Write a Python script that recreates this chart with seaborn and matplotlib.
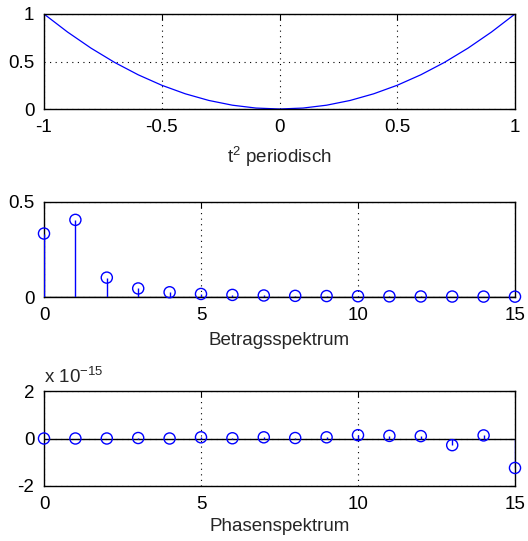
import numpy as np
import pandas as pd
import matplotlib
matplotlib.use("Agg")
import matplotlib.pyplot as plt
import seaborn as sns

# ---- data ----
t_vals = [-1.0, -0.9, -0.8, -0.7, -0.6, -0.5, -0.4, -0.3, -0.2, -0.1, 0.0,
          0.1, 0.2, 0.3, 0.4, 0.5, 0.6, 0.7, 0.8, 0.9, 1.0]
y_vals = [1.0, 0.81, 0.64, 0.49, 0.36, 0.25, 0.16, 0.09, 0.04, 0.01, 0.0,
          0.01, 0.04, 0.09, 0.16, 0.25, 0.36, 0.49, 0.64, 0.81, 1.0]

k_vals = list(range(16))
betrag = [0.334, 0.406, 0.102, 0.045, 0.025, 0.016, 0.011, 0.008, 0.006,
          0.005, 0.004, 0.0034, 0.0028, 0.0024, 0.0021, 0.0018]
phase_e15 = [0.0, 0.0, 0.0, 0.02, 0.0, 0.05, 0.01, 0.05, 0.02, 0.05, 0.14,
             0.11, 0.1, -0.28, 0.13, -1.24]

top_xticks = [-1, -0.5, 0, 0.5, 1]
top_xticklabels = ["-1", "-0.5", "0", "0.5", "1"]
top_yticks = [0, 0.5, 1]
top_yticklabels = ["0", "0.5", "1"]
k_ticks = [0, 5, 10, 15]
mid_yticks = [0, 0.5]
bot_yticks = [-2, 0, 2]

FS = 13.5

sns.set_style("white")
plt.rcParams['font.family'] = ['Liberation Sans', 'DejaVu Sans']
plt.rcParams['font.size'] = FS
plt.rcParams['mathtext.fontset'] = 'custom'
plt.rcParams['mathtext.rm'] = 'Liberation Sans'

fig = plt.figure(figsize=(5.28, 5.41), dpi=100)
L, W = 44 / 528, 471 / 528
H = 95 / 541
ax1 = fig.add_axes([L, 1 - 109 / 541, W, H])
ax2 = fig.add_axes([L, 1 - 297 / 541, W, H])
ax3 = fig.add_axes([L, 1 - 486 / 541, W, H])

blue = "#0000FF"

def style(ax):
    for s in ax.spines.values():
        s.set_color("black")
        s.set_linewidth(1.0)
    ax.tick_params(direction="in", length=4, width=0.8, top=True, right=True,
                   labelsize=FS, colors="black", pad=7)
    ax.grid(True, color="black", linestyle=(0, (1, 4)), linewidth=0.8)
    ax.set_axisbelow(True)

# top plot
df1 = pd.DataFrame({"t": t_vals, "y": y_vals})
sns.lineplot(data=df1, x="t", y="y", ax=ax1, color=blue, linewidth=0.9)
ax1.set_xlim(-1, 1)
ax1.set_ylim(0, 1)
ax1.set_xticks(top_xticks)
ax1.set_xticklabels(top_xticklabels)
ax1.set_yticks(top_yticks)
ax1.set_yticklabels(top_yticklabels)
ax1.set_xlabel(r"t$^\mathregular{2}$ periodisch", fontsize=FS, labelpad=6)
ax1.set_ylabel("")
style(ax1)

# middle plot
df2 = pd.DataFrame({"k": k_vals, "v": betrag})
ax2.vlines(df2["k"], 0, df2["v"], color=blue, linewidth=1.0, zorder=3)
ax2.axhline(0, color="black", linewidth=1.0, zorder=2)
sns.scatterplot(data=df2, x="k", y="v", ax=ax2, marker="o", s=64,
                facecolor="none", edgecolor=blue, linewidth=1.0, zorder=4,
                clip_on=False)
ax2.set_xlim(0, 15)
ax2.set_ylim(0, 0.5)
ax2.set_xticks(k_ticks)
ax2.set_yticks(mid_yticks)
ax2.set_yticklabels(["0", "0.5"])
ax2.set_xlabel("Betragsspektrum", fontsize=FS, labelpad=6)
ax2.set_ylabel("")
style(ax2)

# bottom plot
df3 = pd.DataFrame({"k": k_vals, "p": phase_e15})
ax3.vlines(df3["k"], 0, df3["p"], color=blue, linewidth=1.0, zorder=3)
ax3.axhline(0, color="black", linewidth=1.0, zorder=2)
sns.scatterplot(data=df3, x="k", y="p", ax=ax3, marker="o", s=64,
                facecolor="none", edgecolor=blue, linewidth=1.0, zorder=4,
                clip_on=False)
ax3.set_xlim(0, 15)
ax3.set_ylim(-2, 2)
ax3.set_xticks(k_ticks)
ax3.set_yticks(bot_yticks)
ax3.set_yticklabels(["-2", "0", "2"])
ax3.set_xlabel("Phasenspektrum", fontsize=FS, labelpad=4)
ax3.set_ylabel("")
style(ax3)
ax3.text(0.0, 1.04, r"x 10$^\mathregular{-15}$", transform=ax3.transAxes,
         fontsize=FS, ha="left", va="bottom")

fig.savefig("out.png", dpi=100)
